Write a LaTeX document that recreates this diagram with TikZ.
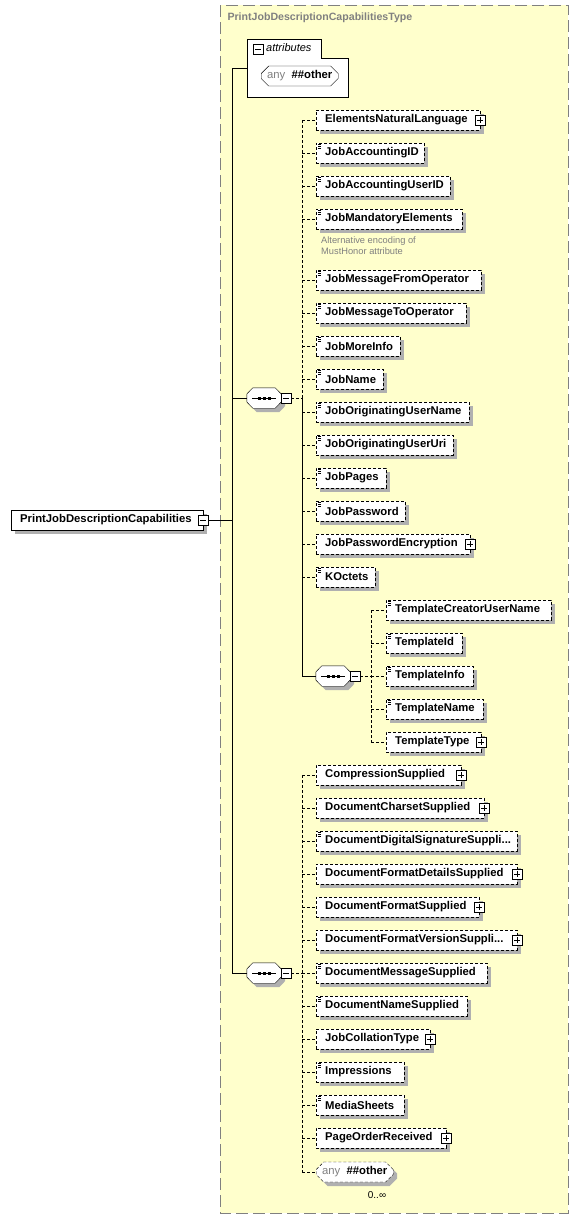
\documentclass[tikz,border=0pt]{standalone}
\usepackage{fontspec}
\setmainfont{Liberation Sans}
\usepackage{tikz}
\usetikzlibrary{positioning, shapes.misc, calc}
\pgfdeclarelayer{fond}
\pgfdeclarelayer{ombres}
\pgfsetlayers{fond, ombres, main}
\definecolor{jaunepale}{RGB}{255, 255, 204}
\definecolor{grisombre}{RGB}{176, 176, 176}
\definecolor{gristexte}{RGB}{128, 128, 128}

\begin{document}
\begin{tikzpicture}[x=1pt, y=-1pt, line width=0.8pt,
    pointille/.style={dash pattern=on 3pt off 2pt},
    element/.style={rectangle, draw, fill=white, pointille, anchor=west, align=left,
                    text width=#1pt, inner xsep=9pt, inner ysep=0pt, minimum height=20pt,
                    font=\bfseries\fontsize{11.3}{13}\selectfont},
    simpleicone/.style={path picture={
        \draw[line width=0.6pt] ([shift={(2pt,-1.5pt)}]path picture bounding box.north west) -- +(5pt,0pt);
        \draw[line width=0.6pt] ([shift={(2pt,-3.5pt)}]path picture bounding box.north west) -- +(5pt,0pt);
        \draw[line width=0.6pt] ([shift={(2pt,-5.5pt)}]path picture bounding box.north west) -- +(5pt,0pt);}},
    signe/.style={rectangle, draw, fill=white, minimum size=10pt, inner sep=0pt, line width=0.9pt},
    signemoins/.style={signe, path picture={
        \draw ([xshift=2pt]path picture bounding box.west) -- ([xshift=-2pt]path picture bounding box.east);}},
    signeplus/.style={signe, path picture={
        \draw ([xshift=2pt]path picture bounding box.west) -- ([xshift=-2pt]path picture bounding box.east);
        \draw ([yshift=-2pt]path picture bounding box.north) -- ([yshift=2pt]path picture bounding box.south);}},
    sequence/.style={rectangle, minimum width=34pt, minimum height=20pt, inner sep=0pt},
    joker/.style={chamfered rectangle, chamfered rectangle xsep=4pt, draw, fill=white,
                  minimum width=#1pt, minimum height=20pt, inner sep=0pt, anchor=west,
                  font=\bfseries\fontsize{11.3}{13}\selectfont},
    ombre/.style={draw=none, fill=grisombre, text=grisombre}]

  \useasboundingbox (0,0) rectangle (579,1219);

  % le type complexe
  \begin{pgfonlayer}{fond}
    \draw[gristexte, fill=jaunepale, dash pattern=on 12pt off 5pt] (220,5) rectangle (568,1213);
  \end{pgfonlayer}
  \node[anchor=west, text=gristexte, font=\bfseries\fontsize{10.6}{12}\selectfont] (titre) at (224,18) {PrintJobDescriptionCapabilitiesType};

  % attributs
  \draw[fill=white] (247,39) -- (321,39) -- (321,58) -- (348,58) -- (348,97) -- (247,97) -- cycle;
  \node[signemoins] (attrm) at (258,49) {};
  \node[anchor=west, inner sep=0pt, font=\itshape\fontsize{11}{13}\selectfont] (attrtitre) at (266,48) {attributes};
  \node[joker=77] (attrany) at (261,76) {{\color{gristexte}\mdseries any}\ \ \#\#other};
  \coordinate (attr) at (247,68);

  % element racine
  \node[element=174, solid] (racine) at (11,520) {PrintJobDescriptionCapabilities};
  \node[signemoins] (racinem) at (racine.east) {};
  \coordinate (tronc) at (232,520);

  % premiere sequence
  \node[sequence] (seqa) at (264,398) {};
  \node[element=146] (enl) at (316,120) {ElementsNaturalLanguage};
  \node[signeplus] (enlp) at (enl.east) {};
  \node[element=90, simpleicone] (jaid) at (316,153) {JobAccountingID};
  \node[element=116, simpleicone] (jauid) at (316,186) {JobAccountingUserID};
  \node[element=128, simpleicone] (jme) at (316,219) {JobMandatoryElements};
  \node[anchor=north west, align=left, inner sep=0pt, text=gristexte, font=\fontsize{9.3}{10.5}\selectfont] (note) at (321,237) {Alternative encoding of\\MustHonor attribute};
  \node[element=147, simpleicone] (jmfo) at (316,280) {JobMessageFromOperator};
  \node[element=132, simpleicone] (jmto) at (316,313) {JobMessageToOperator};
  \node[element=66, simpleicone] (jmi) at (316,346) {JobMoreInfo};
  \node[element=49, simpleicone] (jn) at (316,379) {JobName};
  \node[element=135, simpleicone] (joun) at (316,412) {JobOriginatingUserName};
  \node[element=119, simpleicone] (jouu) at (316,445) {JobOriginatingUserUri};
  \node[element=52, simpleicone] (jp) at (316,478) {JobPages};
  \node[element=71, simpleicone] (jpw) at (316,511) {JobPassword};
  \node[element=136] (jpe) at (316,544) {JobPasswordEncryption};
  \node[signeplus] (jpep) at (jpe.east) {};
  \node[element=41, simpleicone] (ko) at (316,577) {KOctets};

  % sequence imbriquee
  \node[sequence] (seqb) at (333,676) {};
  \node[element=147, simpleicone] (tcun) at (386,610) {TemplateCreatorUserName};
  \node[element=58, simpleicone] (tid) at (386,643) {TemplateId};
  \node[element=69, simpleicone] (tinf) at (386,676) {TemplateInfo};
  \node[element=79, simpleicone] (tnam) at (386,709) {TemplateName};
  \node[element=77] (ttyp) at (386,742) {TemplateType};
  \node[signeplus] (ttypp) at (ttyp.east) {};

  % deuxieme sequence
  \node[sequence] (seqc) at (264,973) {};
  \node[element=127] (cs) at (316,775) {CompressionSupplied};
  \node[signeplus] (csp) at (cs.east) {};
  \node[element=150] (dcs) at (316,808) {DocumentCharsetSupplied};
  \node[signeplus] (dcsp) at (dcs.east) {};
  \node[element=183, simpleicone] (ddss) at (316,841) {DocumentDigitalSignatureSuppli...};
  \node[element=183] (dfds) at (316,874) {DocumentFormatDetailsSupplied};
  \node[signeplus] (dfdsp) at (dfds.east) {};
  \node[element=145] (dfs) at (316,907) {DocumentFormatSupplied};
  \node[signeplus] (dfsp) at (dfs.east) {};
  \node[element=183] (dfvs) at (316,940) {DocumentFormatVersionSuppli...};
  \node[signeplus] (dfvsp) at (dfvs.east) {};
  \node[element=153, simpleicone] (dms) at (316,973) {DocumentMessageSupplied};
  \node[element=133, simpleicone] (dns) at (316,1006) {DocumentNameSupplied};
  \node[element=96] (jct) at (316,1039) {JobCollationType};
  \node[signeplus] (jctp) at (jct.east) {};
  \node[element=70, simpleicone] (imp) at (316,1072) {Impressions};
  \node[element=70, simpleicone] (ms) at (316,1105) {MediaSheets};
  \node[element=112] (por) at (316,1138) {PageOrderReceived};
  \node[signeplus] (porp) at (por.east) {};
  \node[joker=77, pointille] (anyb) at (316,1172) {{\color{gristexte}\mdseries any}\ \ \#\#other};
  \node[font=\fontsize{10}{12}\selectfont, inner sep=0pt] (card) at (377,1195) {0..∞};

  % octogones des sequences
  \foreach \s in {seqa, seqb, seqc} {
    \begin{pgfonlayer}{ombres}
      \fill[grisombre] ($(\s.west)+(4,0)$) -- ($(\s.north west)+(10,4)$) -- ($(\s.north east)+(-2,4)$)
        -- ($(\s.east)+(4,0)$) -- ($(\s.east)+(4,8)$) -- ($(\s.south east)+(-2,4)$)
        -- ($(\s.south west)+(10,4)$) -- ($(\s.west)+(4,8)$) -- cycle;
    \end{pgfonlayer}
    \draw[fill=white] ($(\s.west)+(0,-4)$) -- ($(\s.north west)+(6,0)$) -- ($(\s.north east)+(-6,0)$)
      -- ($(\s.east)+(0,-4)$) -- ($(\s.east)+(0,4)$) -- ($(\s.south east)+(-6,0)$)
      -- ($(\s.south west)+(6,0)$) -- ($(\s.west)+(0,4)$) -- cycle;
    \draw ($(\s)+(-12,0)$) -- ($(\s)+(12,0)$);
    \fill ($(\s)+(-6.5,-1.5)$) rectangle +(3,3);
    \fill ($(\s)+(-1.5,-1.5)$) rectangle +(3,3);
    \fill ($(\s)+(3.5,-1.5)$) rectangle +(3,3);
  }
  \node[signemoins] (seqam) at (286,398) {};
  \node[signemoins] (seqbm) at (355,676) {};
  \node[signemoins] (seqcm) at (286,973) {};

  % ombres portees
  \foreach \n in {racine, enl, jaid, jauid, jme, jmfo, jmto, jmi, jn, joun, jouu, jp, jpw, jpe, ko, tcun, tid, tinf, tnam, ttyp, cs, dcs, ddss, dfds, dfs, dfvs, dms, dns, jct, imp, ms, por} {
    \begin{pgfonlayer}{ombres}
      \fill[grisombre] ($(\n.north west)+(4,4)$) -- ($(\n.north east)+(4,4)$)
        -- ($(\n.south east)+(4,4)$) -- ($(\n.south west)+(4,4)$) -- cycle;
    \end{pgfonlayer}
  }
  \begin{pgfonlayer}{ombres}
    \node[joker=77, ombre] (attranyombre) at ($(attrany.west)+(4,4)$) {\phantom{any\ \ \#\#other}};
    \node[joker=77, ombre] (anybombre) at ($(anyb.west)+(4,4)$) {\phantom{any\ \ \#\#other}};
  \end{pgfonlayer}

  % connexions
  \draw (racinem.east) -- (tronc);
  \draw (tronc |- attr) -- (tronc |- seqc.west);
  \draw (tronc |- attr) -- (attr);
  \draw (tronc |- seqa.west) -- (seqa.west);
  \draw (tronc |- seqc.west) -- (seqc.west);

  \coordinate (busa) at (302,398);
  \draw[pointille] (seqam.east) -- (busa);
  \draw[pointille] (busa |- enl.west) -- (busa |- ko.west);
  \foreach \n in {enl, jaid, jauid, jme, jmfo, jmto, jmi, jn, joun, jouu, jp, jpw, jpe, ko}
    \draw[pointille] (busa |- \n.west) -- (\n.west);
  \draw (busa) -- (busa |- seqb.west) -- (seqb.west);

  \coordinate (busb) at (371,676);
  \draw[pointille] (seqbm.east) -- (busb);
  \draw[pointille] (busb |- tcun.west) -- (busb |- ttyp.west);
  \foreach \n in {tcun, tid, tinf, tnam, ttyp}
    \draw[pointille] (busb |- \n.west) -- (\n.west);

  \coordinate (busc) at (302,973);
  \draw[pointille] (seqcm.east) -- (busc);
  \draw[pointille] (busc |- cs.west) -- (busc |- anyb.west);
  \foreach \n in {cs, dcs, ddss, dfds, dfs, dfvs, dms, dns, jct, imp, ms, por, anyb}
    \draw[pointille] (busc |- \n.west) -- (\n.west);
\end{tikzpicture}
\end{document}
